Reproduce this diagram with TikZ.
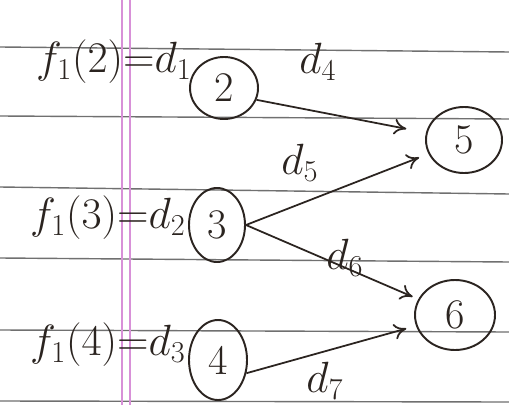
\documentclass[tikz,border=0pt]{standalone}
\usetikzlibrary{shapes.geometric,arrows.meta}
\definecolor{ink}{HTML}{2B2420}
\definecolor{rule}{HTML}{707070}
\definecolor{margin}{HTML}{D890D8}
\begin{document}
\begin{tikzpicture}[x=0.02cm,y=-0.02cm,
  state/.style={draw=ink,ellipse,line width=1.1pt,inner sep=0pt,font=\fontsize{24}{28}\selectfont,text=ink},
  lbl/.style={text=ink,font=\fontsize{23}{27}\selectfont,inner sep=0pt},
  edge/.style={draw=ink,line width=1pt,-{To[length=7pt,width=9pt]}},
  ruleline/.style={draw=rule,line width=0.8pt}]
\useasboundingbox (0,0) rectangle (509,405);
\fill[white] (0,0) rectangle (509,405);
% ruled lines
\draw[ruleline] (0,47) -- (509,52);
\draw[ruleline] (0,116) -- (509,119);
\draw[ruleline] (0,187) -- (509,194);
\draw[ruleline] (0,258) -- (509,262);
\draw[ruleline] (0,330) -- (509,332);
\draw[ruleline] (0,401) -- (509,402);
% margin lines
\draw[margin,line width=1pt] (122,0) -- (122,405);
\draw[margin,line width=1pt] (130,0) -- (130,405);
% nodes
\node[state,minimum width=68*0.02cm,minimum height=62*0.02cm] (n2) at (224,88) {2};
\node[state,minimum width=76*0.02cm,minimum height=66*0.02cm] (n5) at (464,140) {5};
\node[state,minimum width=56*0.02cm,minimum height=74*0.02cm] (n3) at (217,225) {3};
\node[state,minimum width=80*0.02cm,minimum height=70*0.02cm] (n6) at (455,315) {6};
\node[state,minimum width=58*0.02cm,minimum height=80*0.02cm] (n4) at (218,360) {4};
% edges
\draw[edge,shorten >=20*0.02cm] (n2.-20) -- (n5);
\draw[edge,shorten >=10*0.02cm] (n3.east) -- (n5);
\draw[edge,shorten >=6*0.02cm] (n3.east) -- (n6);
\draw[edge,shorten >=10*0.02cm] (n4.-25) -- (n6);
% edge labels
\node[lbl] (l4) at (318,62) {$d_4$};
\node[lbl] (l5) at (300,163) {$d_5$};
\node[lbl] (l6) at (345,258) {$d_6$};
\node[lbl] (l7) at (325,381) {$d_7$};
% left labels
\node[lbl,anchor=east] (f2) at (192,62) {$f_1(2){=}d_1$};
\node[lbl,anchor=east] (f3) at (186,218) {$f_1(3){=}d_2$};
\node[lbl,anchor=east] (f4) at (186,345) {$f_1(4){=}d_3$};
\end{tikzpicture}
\end{document}
